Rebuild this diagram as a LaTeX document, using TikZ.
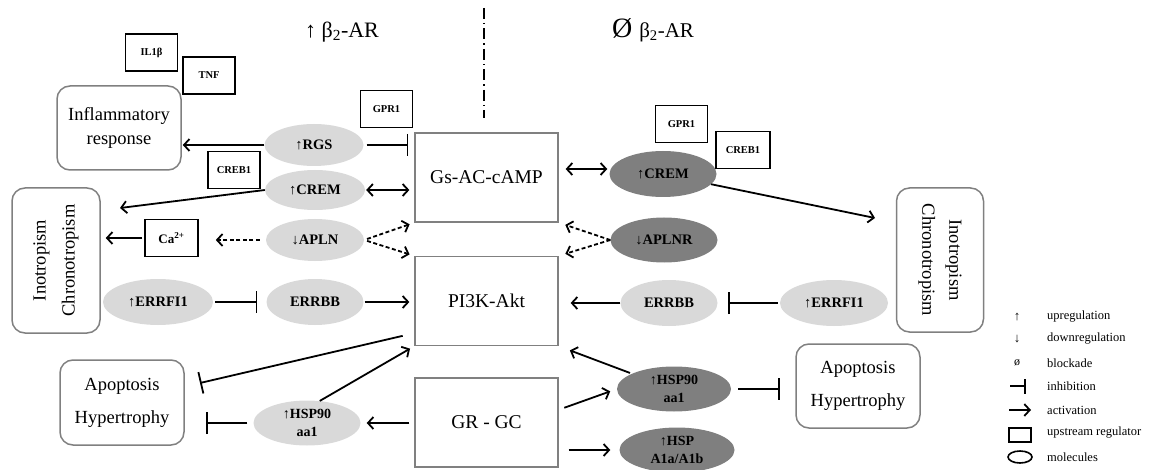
\documentclass[tikz,border=0pt]{standalone}
\usepackage{fontspec}
\setmainfont{Liberation Serif}
\usetikzlibrary{arrows.meta,shapes.geometric,calc}
\definecolor{molL}{HTML}{D9D9D9}
\definecolor{molD}{HTML}{7F7F7F}
\definecolor{boxG}{HTML}{808080}
\newcommand\fsz[2]{\fontsize{#1}{#2}\selectfont}
\begin{document}
\begin{tikzpicture}[x=1pt,y=-1pt,
  reg/.style={draw=black,fill=white,line width=1.6pt,rectangle,minimum width=52pt,minimum height=37pt,inner sep=0pt,font=\bfseries\fsz{10.5}{12}},
  lmol/.style={ellipse,fill=molL,inner sep=0pt,align=center,font=\bfseries\fsz{14.5}{17}},
  dmol/.style={ellipse,fill=molD,inner sep=0pt,align=center,font=\bfseries\fsz{14.5}{17}},
  pbox/.style={draw=boxG,line width=1.3pt,minimum width=143pt,minimum height=89pt,inner sep=0pt,font=\fsz{19.5}{23}},
  obox/.style={draw=boxG,line width=1.5pt,rounded corners=13pt,inner sep=0pt,align=center,font=\fsz{18.5}{24}},
  act/.style={-{Straight Barb[length=5.5pt,width=12pt]},line width=1.8pt},
  bi/.style={{Straight Barb[length=5.5pt,width=12pt]}-{Straight Barb[length=5.5pt,width=12pt]},line width=1.8pt},
  dact/.style={act,dash pattern=on 4pt off 2.5pt},
  inh/.style={-{Bar[width=22pt]},line width=1.8pt},
  leg/.style={anchor=west,inner sep=0pt,font=\fsz{12.5}{14}}
]
\useasboundingbox (0,0) rectangle (1158,470);

% titles
\node (t1) at (342,32) {\fsz{22}{26}↑ β\textsubscript{2}-AR};
\node (t2) at (653,30) {\fsz{28}{30}Ø \fsz{21}{26}β\textsubscript{2}-AR};
\draw[line width=1.5pt,dash pattern=on 11pt off 4pt on 1.5pt off 4pt] (484,8) -- (484,118);

% left side
\node[reg] (il1b) at (151.5,52.5) {IL1β};
\node[reg] (tnf) at (209,75.5) {TNF};
\node[obox,minimum width=124pt,minimum height=84pt] (infl) at (119,128) {Inflammatory\\response};
\node[reg] (gpr1L) at (386.5,109) {GPR1};
\node[lmol,minimum width=99pt,minimum height=42pt] (rgsL) at (314,145) {↑RGS};
\node[reg] (creb1L) at (234,170) {CREB1};
\node[lmol,minimum width=100pt,minimum height=40pt] (cremL) at (315,190) {↑CREM};
\node[pbox] (gs) at (486.5,177.5) {Gs-AC-cAMP};
\node[obox,minimum width=88pt,minimum height=145pt] (inoL) at (56,260.5) {};
\node[rotate=90,align=center,font=\fsz{18.5}{29}] (inoLt) at (inoL) {Inotropism\\Chronotropism};
\node[reg,minimum width=53pt,font=\bfseries\fsz{13}{15}] (ca) at (171.5,238) {Ca\textsuperscript{2+}};
\node[lmol,minimum width=98pt,minimum height=42pt] (aplnL) at (315,240) {↓APLN};
\node[lmol,minimum width=110pt,minimum height=46pt] (errfiL) at (158,302) {↑ERRFI1};
\node[lmol,minimum width=97pt,minimum height=46pt] (errbbL) at (315,302) {ERRBB};
\node[pbox] (pi3k) at (486.5,301) {PI3K-Akt};
\node[pbox] (grgc) at (486.5,422.5) {GR - GC};
\node[obox,minimum width=124pt,minimum height=85pt,font=\fsz{18.5}{33}] (apoL) at (122,402.5) {Apoptosis\\Hypertrophy};
\node[lmol,minimum width=107pt,minimum height=45pt,font=\bfseries\fsz{14}{18}] (hspL) at (307,423) {↑HSP90\\aa1};

% right side
\node[dmol,minimum width=107pt,minimum height=46pt] (cremR) at (663,174) {↑CREM};
\node[reg] (gpr1R) at (681.5,124) {GPR1};
\node[reg,minimum width=54pt] (creb1R) at (743,150) {CREB1};
\node[dmol,minimum width=107pt,minimum height=45pt] (aplnR) at (664,240) {↓APLNR};
\node[lmol,minimum width=97pt,minimum height=46pt] (errbbR) at (669,303) {ERRBB};
\node[lmol,minimum width=108pt,minimum height=46pt] (errfiR) at (834,303) {↑ERRFI1};
\node[obox,minimum width=87pt,minimum height=144pt] (inoR) at (940,260) {};
\node[rotate=-90,align=center,font=\fsz{18.5}{27}] (inoRt) at (inoR) {Inotropism\\Chronotropism};
\node[obox,minimum width=124pt,minimum height=84pt,font=\fsz{18.5}{33}] (apoR) at (858,386) {Apoptosis\\Hypertrophy};
\node[dmol,minimum width=114pt,minimum height=45pt,font=\bfseries\fsz{14}{18}] (hspR) at (674,389) {↑HSP90\\aa1};
\node[dmol,minimum width=115pt,minimum height=45pt,font=\bfseries\fsz{14}{18}] (hspA) at (677,450) {↑HSP\\A1a/A1b};

% connectors left
\draw[act,shorten >=1pt] (rgsL.west) -- (infl.east |- rgsL.west);
\draw[inh,shorten <=3pt,shorten >=6pt] (rgsL.east) -- (gs.west |- rgsL.east);
\draw[bi,shorten <=1pt,shorten >=5pt] (cremL.east) -- (gs.west |- cremL.east);
\coordinate (inoLin) at (120,208);
\draw[act] (cremL.west) -- (inoLin);
\draw[act,shorten <=2pt,shorten >=5pt] (ca.west) -- (inoL.east |- ca.west);
\draw[dact,shorten <=6pt,shorten >=17pt] (aplnL.west) -- (ca.east |- aplnL.west);
\draw[dact,shorten <=3pt,shorten >=5pt] (aplnL.east) -- (gs.south west);
\draw[dact,shorten <=3pt,shorten >=5pt] (aplnL.east) -- (pi3k.north west);
\draw[inh,shorten <=2pt,shorten >=9pt] (errfiL.east) -- (errbbL.west);
\draw[act,shorten <=1pt,shorten >=5pt] (errbbL.east) -- (pi3k.west |- errbbL.east);
\coordinate (apoLin) at (200,383);
\draw[inh,shorten <=12pt] (pi3k.204) -- (apoLin);
\draw[act,shorten >=5pt] (hspL.60) -- (pi3k.south west);
\draw[inh,shorten <=6pt,shorten >=21pt] (hspL.west) -- (apoL.east |- hspL.west);
\draw[act,shorten <=5pt,shorten >=6pt] (grgc.west |- hspL.east) -- (hspL.east);

% connectors right
\draw[bi,shorten <=7pt,shorten >=2pt] ($(gs.east |- cremR.west)+(0,-5)$) -- ($(cremR.west)+(0,-5)$);
\coordinate (inoRin) at (875,218);
\draw[act] (cremR.-12) -- (inoRin);
\draw[dact,shorten >=7pt] (aplnR.west) -- (gs.south east);
\draw[dact,shorten >=7pt] (aplnR.west) -- (pi3k.north east);
\draw[act,shorten >=12pt] (errbbR.west) -- (pi3k.east |- errbbR.west);
\draw[inh,shorten <=2pt,shorten >=10pt] (errfiR.west) -- (errbbR.east);
\draw[act,shorten <=2pt,shorten >=12pt] (hspR.160) -- (pi3k.south east);
\draw[act,shorten <=6pt,shorten >=7pt] (grgc.10) -- (hspR.west);
\draw[act,shorten <=10pt,shorten >=9pt] (grgc.east |- hspA.west) -- (hspA.west);
\draw[inh,shorten <=7pt,shorten >=15pt] (hspR.east) -- (apoR.west |- hspR.east);

% legend
\node[font=\fsz{13}{14}] (l1s) at (1017,317) {↑};
\node[font=\fsz{13}{14}] (l2s) at (1017,339) {↓};
\node[font=\fsz{12}{13}] (l3s) at (1017,363) {ø};
\draw[line width=1.8pt] (1010,386) -- (1025,386);
\draw[line width=1.8pt] (1025,379) -- (1025,394);
\draw[act] (1009,410) -- (1031,410);
\draw[line width=1.6pt] (1009,428) rectangle (1031,442);
\draw[line width=1.6pt] (1020,457) ellipse [x radius=12, y radius=6];
\node[leg] (l1) at (1047,317) {upregulation};
\node[leg] (l2) at (1047,339) {downregulation};
\node[leg] (l3) at (1047,363) {blockade};
\node[leg] (l4) at (1047,386) {inhibition};
\node[leg] (l5) at (1047,410) {activation};
\node[leg] (l6) at (1047,433) {upstream regulator};
\node[leg] (l7) at (1047,457) {molecules};
\end{tikzpicture}
\end{document}
